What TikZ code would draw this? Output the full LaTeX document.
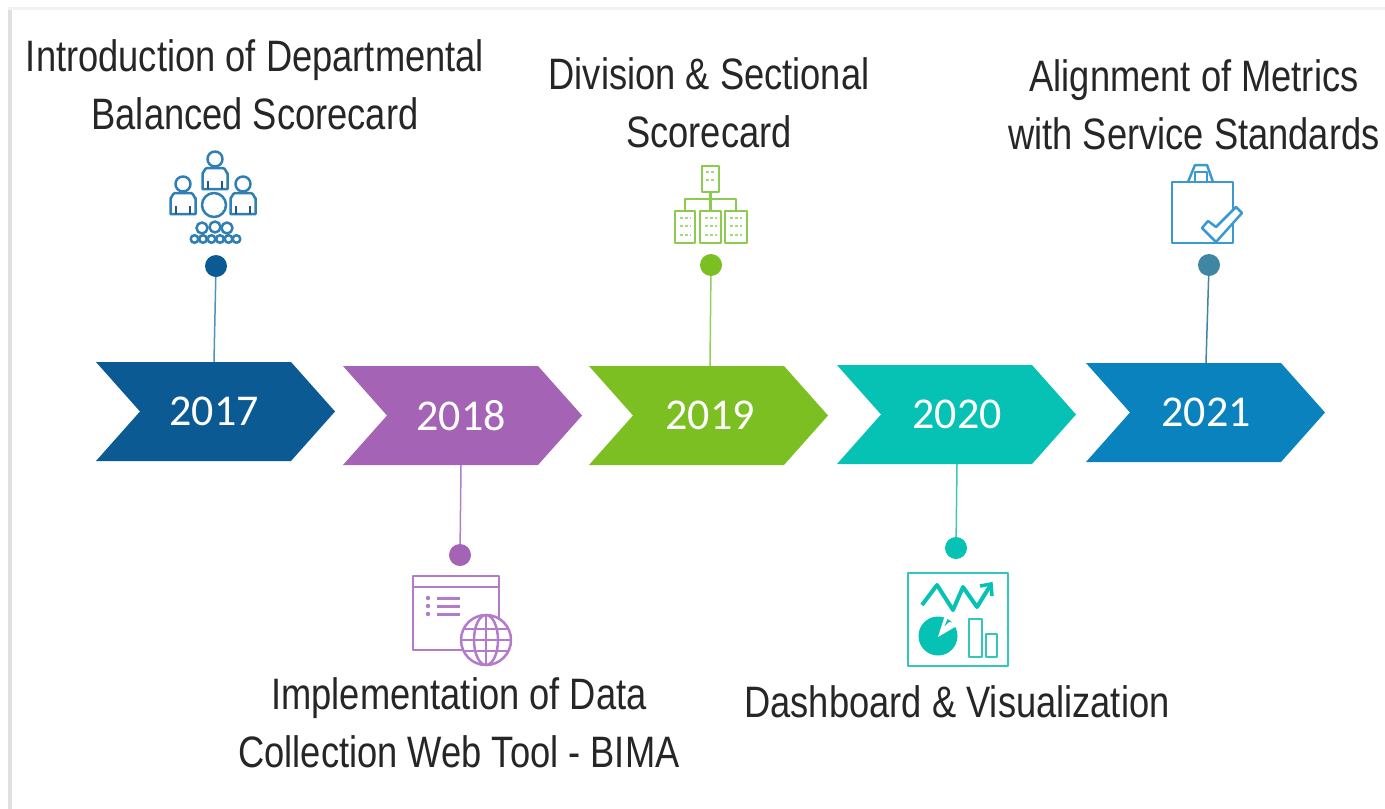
\documentclass[tikz,border=0pt]{standalone}
\usepackage{fontspec}
\setmainfont{Carlito}[Ligatures={NoCommon}]
\newfontfamily\narrowfont[FakeStretch=0.825]{Liberation Sans}
\definecolor{cA}{HTML}{0B5A94}
\definecolor{cB}{HTML}{A463B5}
\definecolor{cC}{HTML}{7CBF22}
\definecolor{cD}{HTML}{06C2B5}
\definecolor{cE}{HTML}{0A82BE}
\definecolor{lA}{HTML}{4F94B8}
\definecolor{lB}{HTML}{B07FC4}
\definecolor{lC}{HTML}{93D05A}
\definecolor{lD}{HTML}{3CC8BE}
\definecolor{lE}{HTML}{3F86A3}
\definecolor{iA}{HTML}{2F7FB5}
\definecolor{iB}{HTML}{B27CCB}
\definecolor{iC}{HTML}{8CCB50}
\definecolor{iD}{HTML}{35C6BB}
\definecolor{iE}{HTML}{3A9AD0}
\tikzset{
  caption/.style={inner sep=0pt,align=center,text=black!85,font=\narrowfont\fontsize{44}{58}\selectfont},
  yearlabel/.style={inner sep=0pt,minimum width=194pt,minimum height=99pt,text=white,font=\fontsize{44}{50}\selectfont},
  pin/.style={circle,inner sep=0pt,minimum size=22pt},
  stem/.style={line width=1.5pt},
  ico/.style={line width=2.5pt,line join=round},
}
% \chev{name}{left x}{top y}{colour}{text}{label centre x}
\newcommand{\chev}[6]{%
  \fill[#4] (#2,#3) -- ++(195,0) -- ++(44,49.5) -- ++(-44,49.5) -- ++(-195,0) -- ++(44,-49.5) -- cycle;
  \node[yearlabel] (#1) at (#6,{#3+49.5}) {#5};
}
\newcommand{\person}[2]{%
  \draw[ico,iA] (#1,#2) circle (7.5);
  \draw[ico,iA] ({#1-12.5},{#2+30}) -- ({#1-12.5},{#2+14}) to[out=-90,in=180] ({#1-8},{#2+9}) -- ({#1+8},{#2+9}) to[out=0,in=-90] ({#1+12.5},{#2+14}) -- ({#1+12.5},{#2+30}) -- cycle;
  \draw[ico,iA!70!black] ({#1-7},{#2+30}) -- ({#1-7},{#2+22}) ({#1+7},{#2+30}) -- ({#1+7},{#2+22});
}
\begin{document}
\begin{tikzpicture}[x=1pt,y=-1pt]
\useasboundingbox (0,0) rectangle (1385,809);
\fill[white] (0,0) rectangle (1385,809);
\fill[black!12] (8,9) rectangle (12,809);
\fill[black!5] (8,7) rectangle (1385,10);

\chev{y17}{96}{362}{cA}{2017}{214}
\chev{y18}{343}{366}{cB}{2018}{461}
\chev{y19}{589}{366}{cC}{2019}{710}
\chev{y20}{837}{365}{cD}{2020}{957}
\chev{y21}{1086}{363}{cE}{2021}{1206}

\node[pin,fill=cA] (p17) at (216,266) {};
\node[pin,fill=cB] (p18) at (460,555) {};
\node[pin,fill=cC] (p19) at (711,265) {};
\node[pin,fill=cD] (p20) at (956,548) {};
\node[pin,fill=lE] (p21) at (1209,265) {};
\draw[stem,lA] (p17) -- (y17.north);
\draw[stem,lB] (p18) -- (y18.south);
\draw[stem,lC] (p19) -- (y19.north);
\draw[stem,lD] (p20) -- (y20.south);
\draw[stem,lE] (p21) -- (y21.north);

\node[caption] (t17) at (255,85) {Introduction of Departmental\\Balanced Scorecard};
\node[caption] (t18) at (459,723) {Implementation of Data\\Collection Web Tool - BIMA};
\node[caption] (t19) at (709,103) {Division \& Sectional\\Scorecard};
\node[caption] (t20) at (957,702) {Dashboard \& Visualization};
\node[caption] (t21) at (1194,105) {Alignment of Metrics\\with Service Standards};

% icon 2017
\person{215}{159}
\person{183}{184}
\person{243}{184}
\draw[ico,iA] (214,205) circle (12);
\foreach \x/\y in {202/228,215/227,227/228} \draw[ico,iA] (\x,\y) circle (5.5);
\foreach \x in {194.5,203,211.5,220,228.5,236.5} \draw[ico,iA] (\x,239) circle (3.8);

% icon 2019
\draw[ico,iC] (702,166) rectangle (719,192);
\draw[ico,iC] (685,210) -- (685,199) -- (736,199) -- (736,210) (710.5,192) -- (710.5,210);
\draw[ico,iC] (675,211) rectangle (695,243);
\draw[ico,iC] (700,211) rectangle (721,243);
\draw[ico,iC] (725,211) rectangle (747,243);
\foreach \y in {172,180} \draw[iC!75,line width=1.5pt,dash pattern=on 3pt off 2pt] (706,\y) -- (716,\y);
\foreach \y in {218,226,235} {
  \draw[iC!75,line width=1.5pt,dash pattern=on 3pt off 2pt] (680,\y) -- (691,\y);
  \draw[iC!75,line width=1.5pt,dash pattern=on 3pt off 2pt] (705,\y) -- (717,\y);
  \draw[iC!75,line width=1.5pt,dash pattern=on 3pt off 2pt] (730,\y) -- (742,\y);
}

% icon 2021
\draw[ico,iE] (1172,182) rectangle (1233,243);
\draw[ico,iE] (1188,182) -- (1195,165) -- (1207,165) -- (1213,182);
\draw[ico,iE] (1195,182) -- (1195,172) -- (1207,172) -- (1207,182);
\draw[ico,iE,fill=white] (1202,228) -- (1216,242) -- (1242,213) -- (1236,207) -- (1216,227) -- (1208,221) -- cycle;

% icon 2018
\draw[ico,iB] (413,576) rectangle (499,650);
\draw[ico,iB] (413,587) -- (499,587);
\foreach \y in {598,606,614} {
  \fill[iB] (428,\y) circle (2.2);
  \draw[iB,line width=3pt] (437,\y) -- (460,\y);
}
\draw[ico,iB,fill=white] (486,640) circle (25);
\draw[ico,iB] (486,640) ellipse (12 and 25);
\draw[ico,iB] (486,615) -- (486,665);
\draw[ico,iB] (464,629) -- (508,629) (461,640) -- (511,640) (464,651) -- (508,651);

% icon 2020
\draw[ico,iD] (908,573) rectangle (1008,666);
\draw[cD,line width=4pt,line join=round] (922,605) -- (937,585) -- (953,610) -- (963,587) -- (977,607) -- (990,586);
\draw[cD,line width=3.5pt] (980,586) -- (991,584) -- (992,596);
\fill[cD] (938,636) circle (19.5);
\fill[white] (938,637) -- (945,615) -- (949,615) -- (944,627) -- (949,622) -- (960,624) -- cycle;
\draw[ico,iD] (969,619) rectangle (982,657);
\draw[ico,iD] (986,634) rectangle (997,657);
\end{tikzpicture}
\end{document}
